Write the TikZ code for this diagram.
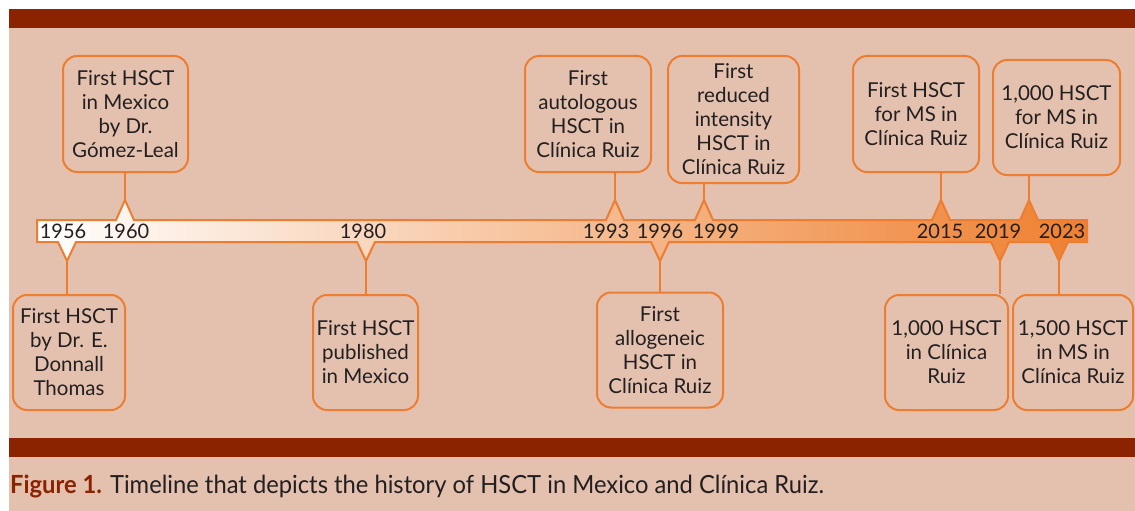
\documentclass[tikz,border=0pt]{standalone}
\usepackage{fontspec}
\setmainfont{Lato}
\definecolor{bgc}{RGB}{227,193,174}
\definecolor{bandc}{RGB}{139,35,0}
\definecolor{lineo}{RGB}{237,125,49}
\definecolor{baro}{RGB}{238,128,48}
\definecolor{txc}{RGB}{35,31,32}
\tikzset{
  evbox/.style={draw=lineo, line width=2pt, rounded corners=14pt, align=center,
    text=txc, font=\fontsize{20.5}{24}\selectfont, inner sep=0pt},
  conn/.style={draw=lineo, line width=2pt},
  yr/.style={font=\fontsize{20}{24}\selectfont, text=txc, inner sep=0pt}
}
\begin{document}
\begin{tikzpicture}[x=1pt,y=-1pt]
\useasboundingbox (0,0) rectangle (1135,511);
\fill[white] (0,0) rectangle (1135,511);
\fill[bgc] (9,9) rectangle (1135,511);
\fill[bandc] (9,9) rectangle (1135,28);
\fill[bandc] (9,438) rectangle (1135,457);
% timeline bar with markers
\shadedraw[left color=white, right color=baro, draw=lineo, line width=2pt, line join=miter]
  (37,220) -- (116,220) -- (125,200) -- (134,220)
  -- (606,220) -- (615,200) -- (624,220)
  -- (695,220) -- (704,200) -- (713,220)
  -- (932,220) -- (941,200) -- (950,220)
  -- (1020,220) -- (1029,200) -- (1038,220)
  -- (1087,220) -- (1087,242)
  -- (1068,242) -- (1059,261) -- (1050,242)
  -- (1009,242) -- (1000,261) -- (991,242)
  -- (669,242) -- (660,261) -- (651,242)
  -- (375,242) -- (366,261) -- (357,242)
  -- (76,242) -- (67,261) -- (58,242)
  -- (37,242) -- cycle;
% marker tips
\coordinate (t1956) at (67,261);
\coordinate (t1960) at (125,200);
\coordinate (t1980) at (366,261);
\coordinate (t1993) at (615,200);
\coordinate (t1996) at (660,261);
\coordinate (t1999) at (704,200);
\coordinate (t2015) at (941,200);
\coordinate (t2019) at (1000,261);
\coordinate (t2023a) at (1029,200);
\coordinate (t2023b) at (1059,261);
% year labels
\node[yr] (y1956) at (63,231) {1956};
\node[yr] (y1960) at (126,231) {1960};
\node[yr] (y1980) at (363,231) {1980};
\node[yr] (y1993) at (606,231) {1993};
\node[yr] (y1996) at (660,231) {1996};
\node[yr] (y1999) at (716,231) {1999};
\node[yr] (y2015) at (940,231) {2015};
\node[yr] (y2019) at (998,231) {2019};
\node[yr] (y2023) at (1062,231) {2023};
% event boxes
\node[evbox, minimum width=112pt, minimum height=115pt] (b1956) at (69,352.5) {First HSCT\\by Dr. E.\\Donnall\\Thomas};
\node[evbox, minimum width=125pt, minimum height=116pt] (b1960) at (125.5,114) {First HSCT\\in Mexico\\by Dr.\\Gómez-Leal};
\node[evbox, minimum width=105pt, minimum height=115pt] (b1980) at (365.5,352.5) {First HSCT\\published\\in Mexico};
\node[evbox, minimum width=126pt, minimum height=116pt] (b1993) at (588,114) {First\\autologous\\HSCT in\\Clínica Ruiz};
\node[evbox, minimum width=126pt, minimum height=115pt] (b1996) at (660,350) {First\\allogeneic\\HSCT in\\Clínica Ruiz};
\node[evbox, minimum width=131pt, minimum height=127pt] (b1999) at (733.5,119.5) {First\\reduced\\intensity\\HSCT in\\Clínica Ruiz};
\node[evbox, minimum width=126pt, minimum height=116pt] (b2015) at (916,114) {First HSCT\\for MS in\\Clínica Ruiz};
\node[evbox, minimum width=127pt, minimum height=115pt] (b2023a) at (1056.5,117.5) {1,000 HSCT\\for MS in\\Clínica Ruiz};
\node[evbox, minimum width=123pt, minimum height=115pt] (b2019) at (946.5,352.5) {1,000 HSCT\\in Clínica\\Ruiz};
\node[evbox, minimum width=120pt, minimum height=115pt] (b2023b) at (1073,352.5) {1,500 HSCT\\in MS in\\Clínica Ruiz};
% connectors
\draw[conn] (b1956.north -| t1956) -- (t1956);
\draw[conn] (b1960.south -| t1960) -- (t1960);
\draw[conn] (b1980.north -| t1980) -- (t1980);
\draw[conn] (b1993.south -| t1993) -- (t1993);
\draw[conn] (b1996.north -| t1996) -- (t1996);
\draw[conn] (b1999.south -| t1999) -- (t1999);
\draw[conn] (b2015.south -| t2015) -- (t2015);
\draw[conn] (b2023a.south -| t2023a) -- (t2023a);
\draw[conn] (b2019.north -| t2019) -- (t2019);
\draw[conn] (b2023b.north -| t2023b) -- (t2023b);
% caption
\node[anchor=west, inner sep=0pt, text=txc, font=\fontsize{25}{28}\selectfont] (cap) at (10,486)
  {\scalebox{0.95}[1]{\textcolor{bandc}{\bfseries Figure 1.} Timeline that depicts the history of HSCT in Mexico and Clínica Ruiz.}};
\end{tikzpicture}
\end{document}
